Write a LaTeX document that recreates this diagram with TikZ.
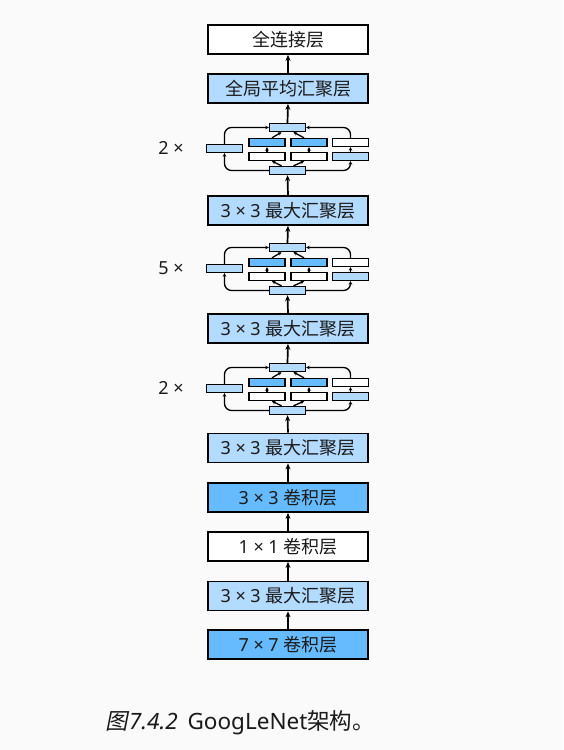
\documentclass[tikz,border=0pt]{standalone}
\usepackage{fontspec}
\setmainfont{Noto Sans}
\newfontfamily\cjk{Noto Sans CJK SC}
\newfontfamily\cjkit[FakeSlant=0.2]{Noto Sans CJK SC}
\usetikzlibrary{arrows.meta}
\definecolor{bg}{HTML}{FAFAFA}
\definecolor{lb}{HTML}{B3DAFF}
\definecolor{db}{HTML}{66BBFF}
\definecolor{ink}{HTML}{1A1A1A}
\tikzset{
  lbox/.style={draw=black, line width=1.7pt, minimum width=160pt, minimum height=29pt,
    inner sep=0pt, text=ink, font=\fontsize{18}{21}\selectfont},
  ibox/.style={draw=black, line width=1.4pt, minimum width=36pt, minimum height=8pt, inner sep=0pt},
  arr/.style={line width=1.7pt, -{Stealth[length=6pt,width=5pt]}},
  sarr/.style={line width=1.3pt, -{Stealth[length=3.5pt,width=3.5pt]}},
  bypass/.style={sarr, rounded corners=7pt},
  reps/.style={text=ink, font=\fontsize{18}{21}\selectfont},
}
\newcommand\incblock[3]{%
\begin{scope}[shift={(0,#2)}]
  \node[ibox,fill=lb] (#1t) at (287.5,4.5) {};
  \node[ibox,fill=db] (#1a1) at (267,19.5) {};
  \node[ibox,fill=db] (#1b1) at (309,19.5) {};
  \node[ibox,fill=white] (#1c1) at (350.5,19.5) {};
  \node[ibox,fill=white] (#1a2) at (267,33.5) {};
  \node[ibox,fill=white] (#1b2) at (309,33.5) {};
  \node[ibox,fill=lb] (#1c2) at (350.5,33.5) {};
  \node[ibox,fill=lb] (#1d) at (287.5,47.5) {};
  \node[ibox,fill=lb] (#1l) at (224.5,25.5) {};
  \node[reps] (#1n) at (171,25) {#3 ×};
  \draw[bypass] (#1d.west) -| (#1l.south);
  \draw[bypass] (#1l.north) |- (#1t.west);
  \draw[bypass] (#1d.east) -| (#1c2.south);
  \draw[sarr] (#1c2.north) -- (#1c1.south);
  \draw[bypass] (#1c1.north) |- (#1t.east);
  \draw[sarr] ([xshift=-6pt]#1d.north) -- ([xshift=5pt]#1a2.south);
  \draw[sarr] ([xshift=6pt]#1d.north) -- ([xshift=-5pt]#1b2.south);
  \draw[sarr] (#1a2.north) -- (#1a1.south);
  \draw[sarr] (#1b2.north) -- (#1b1.south);
  \draw[sarr] ([xshift=5pt]#1a1.north) -- ([xshift=-6pt]#1t.south);
  \draw[sarr] ([xshift=-5pt]#1b1.north) -- ([xshift=6pt]#1t.south);
\end{scope}}
\begin{document}
\begin{tikzpicture}[x=1pt,y=-1pt]
  \fill[bg] (0,0) rectangle (563,750);
  \useasboundingbox (0,0) rectangle (563,750);
  \node[lbox,fill=white] (fc)  at (288,39.5) {\cjk 全连接层};
  \node[lbox,fill=lb]    (gap) at (288,88.5) {\cjk 全局平均汇聚层};
  \incblock{ia}{123}{2}
  \node[lbox,fill=lb]    (mp1) at (288,210.5) {3 × 3 {\cjk 最大汇聚层}};
  \incblock{ib}{243}{5}
  \node[lbox,fill=lb]    (mp2) at (288,328.5) {3 × 3 {\cjk 最大汇聚层}};
  \incblock{ic}{363}{2}
  \node[lbox,fill=lb]    (mp3) at (288,448) {3 × 3 {\cjk 最大汇聚层}};
  \node[lbox,fill=db]    (c3)  at (288,497.5) {3 × 3 {\cjk 卷积层}};
  \node[lbox,fill=white] (c1)  at (288,546.5) {1 × 1 {\cjk 卷积层}};
  \node[lbox,fill=lb]    (mp0) at (288,596) {3 × 3 {\cjk 最大汇聚层}};
  \node[lbox,fill=db]    (c7)  at (288,644.5) {7 × 7 {\cjk 卷积层}};
  \draw[arr] (c7) -- (mp0);
  \draw[arr] (mp0) -- (c1);
  \draw[arr] (c1) -- (c3);
  \draw[arr] (c3) -- (mp3);
  \draw[arr] (mp3.north) -- (icd.south);
  \draw[arr] (ict.north) -- (mp2.south);
  \draw[arr] (mp2.north) -- (ibd.south);
  \draw[arr] (ibt.north) -- (mp1.south);
  \draw[arr] (mp1.north) -- (iad.south);
  \draw[arr] (iat.north) -- (gap.south);
  \draw[arr] (gap) -- (fc);
  \node[text=ink, font=\fontsize{22.5}{26}\selectfont] (cap) at (240,723)
    {{\cjkit 图}\kern1.5pt{\itshape 7.4.2}\hspace{4pt} GoogLeNet{\cjk 架构。}};
\end{tikzpicture}
\end{document}
